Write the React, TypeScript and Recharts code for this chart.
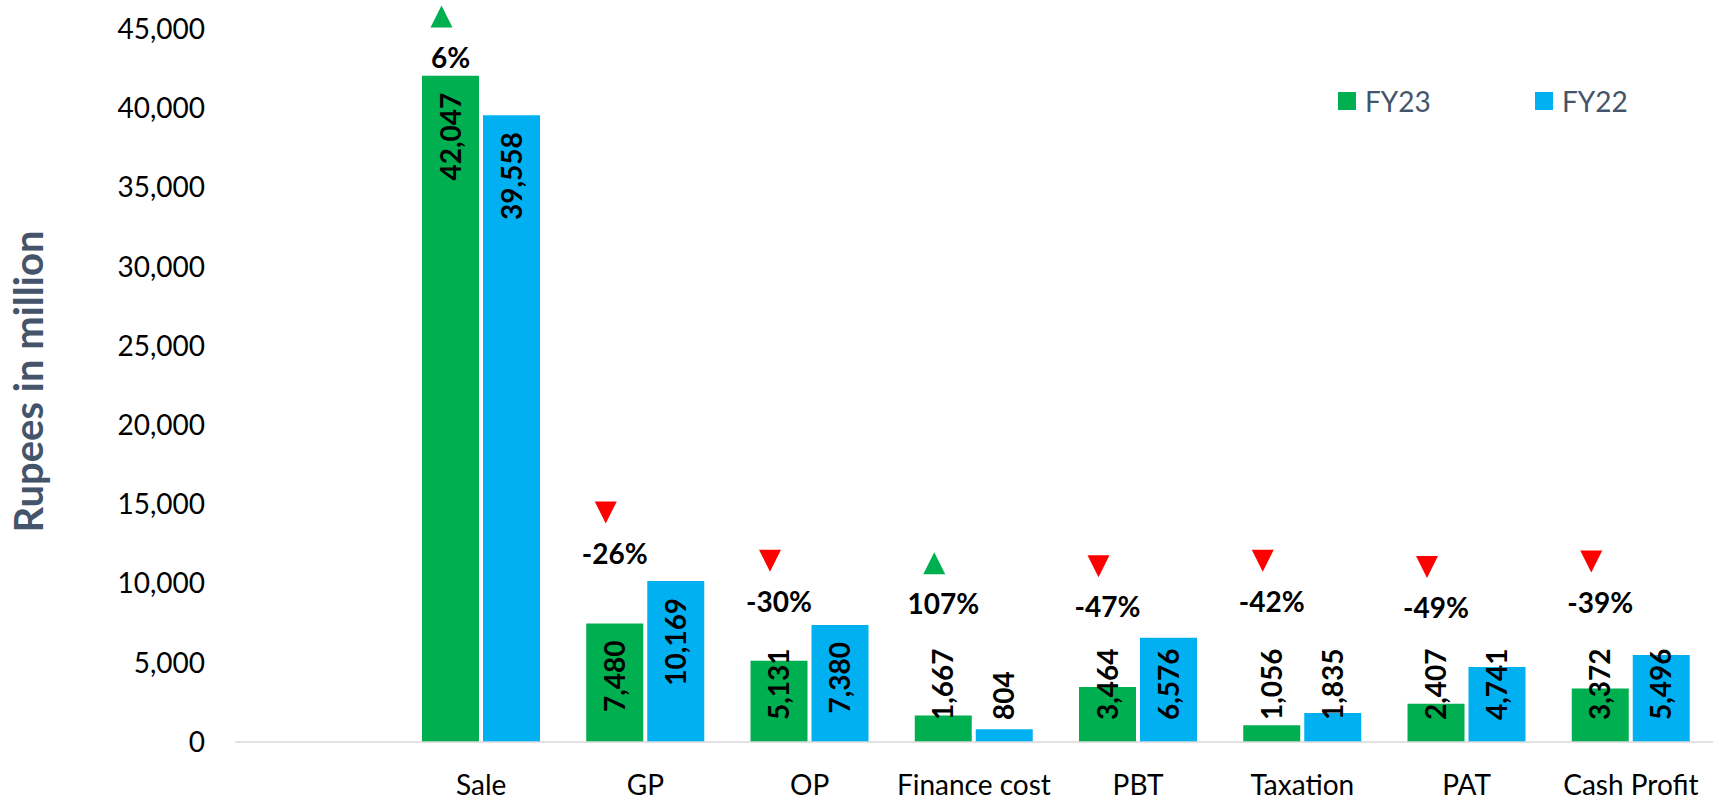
import React from 'react';
import { ComposedChart, Bar, XAxis, YAxis, Legend, LabelList } from 'recharts';

const categories = ['Sale', 'GP', 'OP', 'Finance cost', 'PBT', 'Taxation', 'PAT', 'Cash Profit'];
const fy23 = [42047, 7480, 5131, 1667, 3464, 1056, 2407, 3372];
const fy22 = [39558, 10169, 7380, 804, 6576, 1835, 4741, 5496];
const seriesNames = ['FY23', 'FY22'];
const changeLabels = ['6%', '-26%', '-30%', '107%', '-47%', '-42%', '-49%', '-39%'];
// height (in rupees million) at which each change tag sits
const changeLevels = [43200, 11900, 8850, 8700, 8500, 8850, 8450, 8800];
const yTicks = [0, 5000, 10000, 15000, 20000, 25000, 30000, 35000, 40000, 45000];

const data = categories.map((name, i) => ({ name, FY23: fy23[i], FY22: fy22[i] }));

const GREEN = '#00B050';
const BLUE = '#00B0F0';
const SLATE = '#44546A';
const FONT = 'Lato, "Noto Sans", sans-serif';

const fmt = (v: number) => Number(v).toLocaleString('en-US');

// rotated value label, hangs from the bar top, pushed up when the bar is too short
const ValueLabel = (props: any) => {
  const vb = props.viewBox || props;
  const { x, y, width, height } = vb;
  const text = fmt(props.value);
  const cx = x + width / 2;
  const base = y + height;
  const digits = text.replace(/,/g, '').length;
  const commas = text.length - digits;
  const len = digits * 16.3 + commas * 6.6;
  const top = y + 17;
  const fits = top + len <= base - 22;
  const ay = fits ? top : base - 22;
  return (
    <text
      transform={`translate(${cx},${ay}) rotate(-90)`}
      textAnchor={fits ? 'end' : 'start'}
      dy="0.36em"
      fill="#000"
      fontWeight={700}
      fontSize={28}
      fontFamily={FONT}
    >
      {text}
    </text>
  );
};

const ChangeTag = (props: any) => {
  const vb = props.viewBox || props;
  const { x, y, width, height } = vb;
  const i = props.index;
  const base = y + height;
  const ty = base - (changeLevels[i] * height) / props.value;
  const cx = x + width / 2;
  const up = !changeLabels[i].startsWith('-');
  const tx = cx - 9;
  const tc = ty - 41;
  const pts = up
    ? `${tx - 11},${tc + 11} ${tx + 11},${tc + 11} ${tx},${tc - 11}`
    : `${tx - 11},${tc - 11} ${tx + 11},${tc - 11} ${tx},${tc + 11}`;
  return (
    <g>
      <polygon points={pts} fill={up ? GREEN : '#FF0000'} />
      <text x={cx} y={ty} dy="0.36em" textAnchor="middle" fill="#000" fontWeight={700} fontSize={28} fontFamily={FONT}>
        {changeLabels[i]}
      </text>
    </g>
  );
};

const LegendContent = (props: any) => {
  const items = [...(props.payload || [])].sort(
    (a: any, b: any) => seriesNames.indexOf(a.value) - seriesNames.indexOf(b.value)
  );
  return (
    <div style={{ display: 'flex', fontFamily: FONT, fontSize: 28, color: SLATE }}>
      {items.map((p: any) => (
        <div key={p.value} style={{ width: 197, height: 34, display: 'flex', alignItems: 'center' }}>
          <span style={{ display: 'inline-block', width: 18, height: 18, background: p.color, marginRight: 9 }} />
          <span>{p.value}</span>
        </div>
      ))}
    </div>
  );
};

const YTitle = (props: any) => {
  const vb = props.viewBox || {};
  const cy = (vb.y ?? 29) + (vb.height ?? 713) / 2 - 4;
  return (
    <text
      transform={`translate(29,${cy}) rotate(-90)`}
      textAnchor="middle"
      dy="0.36em"
      fill={SLATE}
      fontWeight={700}
      fontSize={40}
      fontFamily={FONT}
    >
      Rupees in million
    </text>
  );
};

export default function App() {
  return (
    <div style={{ position: 'absolute', left: 0, top: 0, background: '#fff', fontFamily: FONT }}>
      <ComposedChart
        width={1723}
        height={801}
        data={data}
        margin={{ top: 29, right: 10, bottom: 0, left: 0 }}
        barCategoryGap={23}
        barGap={4}
      >
        <XAxis
          dataKey="name"
          height={59}
          interval={0}
          padding={{ left: 164, right: 0 }}
          axisLine={{ stroke: '#D9D9D9', strokeWidth: 1.5 }}
          tickLine={false}
          tickSize={0}
          tickMargin={33}
          tick={{ fill: '#000', fontSize: 28, fontFamily: FONT }}
        />
        <YAxis
          width={235}
          domain={[0, 45000]}
          ticks={yTicks}
          interval={0}
          axisLine={false}
          tickLine={false}
          tickSize={0}
          tickMargin={30}
          tickFormatter={fmt}
          tick={{ fill: '#000', fontSize: 28, fontFamily: FONT }}
          label={{ content: YTitle }}
        />
        <Legend
          layout="horizontal"
          verticalAlign="middle"
          align="center"
          content={LegendContent}
          wrapperStyle={{ left: 1338, top: 84, width: 420, height: 34 }}
        />
        <Bar dataKey="FY23" name="FY23" fill={GREEN} isAnimationActive={false}>
          <LabelList dataKey="FY23" content={ValueLabel} />
          <LabelList dataKey="FY23" content={ChangeTag} />
        </Bar>
        <Bar dataKey="FY22" name="FY22" fill={BLUE} isAnimationActive={false}>
          <LabelList dataKey="FY22" content={ValueLabel} />
        </Bar>
      </ComposedChart>
    </div>
  );
}
